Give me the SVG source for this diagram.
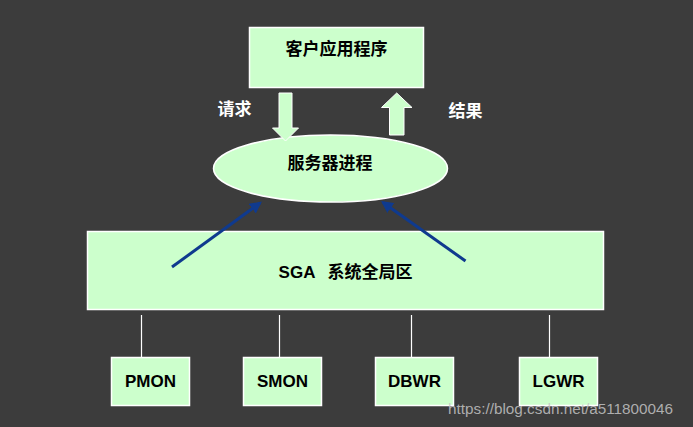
<svg xmlns="http://www.w3.org/2000/svg" width="693" height="427" viewBox="0 0 693 427">
<defs>
<style>
.box{fill:#ccffcc;stroke:#ffffff;stroke-width:1.5}
.lbl{font-family:"Liberation Sans","Noto Sans CJK SC",Arial,sans-serif;font-weight:bold;font-size:17px;fill:#000;text-anchor:middle;dominant-baseline:central}
.wl{font-family:"Liberation Sans","Noto Sans CJK SC",sans-serif;font-weight:bold;font-size:17px;fill:#ffffff;text-anchor:middle;dominant-baseline:central}
.conn{stroke:#ffffff;stroke-width:1.2;fill:none}
.blue{stroke:#0f3a8e;stroke-width:3;fill:none}
.fat{fill:#ccffcc;stroke:#ffffff;stroke-width:1}
</style>
<marker id="ah" viewBox="0 0 10 10" refX="8" refY="5" markerWidth="4" markerHeight="4" orient="auto" markerUnits="strokeWidth">
<path d="M0,0 L10,5 L0,10 z" fill="#0f3a8e"/>
</marker>
</defs>
<rect width="693" height="427" fill="#3c3c3c"/>
<g id="client">
<rect class="box" x="249.5" y="27.5" width="174" height="60"/>
<text class="lbl" x="336.5" y="49">客户应用程序</text>
</g>
<g id="server">
<ellipse class="box" cx="330.5" cy="168.5" rx="117" ry="33.5"/>
<text class="lbl" x="330" y="163">服务器进程</text>
</g>
<g id="sga">
<rect class="box" x="87.5" y="231.5" width="516" height="78"/>
<text class="lbl" x="345.5" y="272">SGA<tspan dx="12">系统全局区</tspan></text>
</g>
<g id="pmon">
<rect class="box" x="111.5" y="357.5" width="78" height="48"/>
<text class="lbl" x="150.5" y="381.5">PMON</text>
</g>
<g id="smon">
<rect class="box" x="243.5" y="357.5" width="78" height="48"/>
<text class="lbl" x="282.5" y="381.5">SMON</text>
</g>
<g id="dbwr">
<rect class="box" x="375.5" y="357.5" width="78" height="48"/>
<text class="lbl" x="414.5" y="381.5">DBWR</text>
</g>
<g id="lgwr">
<rect class="box" x="519.5" y="357.5" width="78" height="48"/>
<text class="lbl" x="558.5" y="381.5">LGWR</text>
</g>
<g id="connectors">
<polygon class="fat" points="279,93 292,93 292,128 298.5,128 285.5,141 272.5,128 279,128"/>
<polygon class="fat" points="396.7,93 412,107.5 404,107.5 404,135 389.5,135 389.5,107.5 381.5,107.5"/>
<text class="wl" x="234.5" y="109">请求</text>
<text class="wl" x="465.5" y="111">结果</text>
<line class="blue" x1="172" y1="267" x2="260" y2="203" marker-end="url(#ah)"/>
<line class="blue" x1="465.5" y1="261" x2="383" y2="202.5" marker-end="url(#ah)"/>
<line class="conn" x1="141.5" y1="315" x2="141.5" y2="357"/>
<line class="conn" x1="279.5" y1="315" x2="279.5" y2="357"/>
<line class="conn" x1="411.5" y1="315" x2="411.5" y2="357"/>
<line class="conn" x1="549.5" y1="315" x2="549.5" y2="357"/>
</g>
<text x="448" y="413.5" font-family="Liberation Sans,Arial,sans-serif" font-size="15.3" fill="#c4c4c4" fill-opacity="0.85">https://blog.csdn.net/a511800046</text>
</svg>
